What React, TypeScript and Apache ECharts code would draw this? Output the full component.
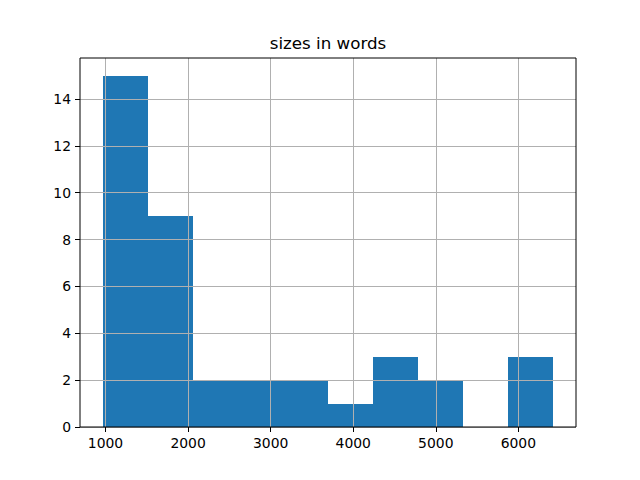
import React, { useEffect, useRef } from "react";
import * as echarts from "echarts";

const binEdges = [964, 1510, 2056, 2602, 3148, 3694, 4240, 4786, 5332, 5878, 6425];
const counts = [15, 9, 2, 2, 2, 1, 3, 2, 0, 3];
const xTicks = [1000, 2000, 3000, 4000, 5000, 6000];
const yTicks = [0, 2, 4, 6, 8, 10, 12, 14];
const titleText = "sizes in words";

export default function App() {
  const ref = useRef<HTMLDivElement>(null);
  useEffect(() => {
    if (!ref.current) return;
    const chart = echarts.init(ref.current, null, { renderer: "svg" });
    const data = counts.map((c, i) => [binEdges[i], binEdges[i + 1], c]);
    const font = "DejaVu Sans";
    chart.setOption({
      animation: false,
      backgroundColor: "#ffffff",
      grid: {
        left: 80,
        right: 64,
        top: 58,
        bottom: 53,
        show: true,
        borderColor: "#000000",
        borderWidth: 1,
        backgroundColor: "transparent",
        z: 5,
      },
      graphic: [
        {
          type: "text",
          x: 328,
          y: 43,
          style: {
            text: titleText,
            fontFamily: font,
            fontSize: 16.7,
            fill: "#000000",
            textAlign: "center",
            textVerticalAlign: "middle",
          },
        },
      ],
      xAxis: {
        type: "value",
        min: 691,
        max: 6698,
        z: 4,
        axisLine: { show: false },
        axisTick: {
          show: true,
          length: 5,
          lineStyle: { color: "#000", width: 1 },
          customValues: xTicks,
        },
        axisLabel: {
          customValues: xTicks,
          margin: 9,
          fontFamily: font,
          fontSize: 13.9,
          color: "#000",
          formatter: (v: number) => String(v),
        },
        splitLine: { show: true, lineStyle: { color: "#b0b0b0", width: 1 } },
      },
      yAxis: {
        type: "value",
        min: 0,
        max: 15.75,
        interval: 2,
        z: 4,
        axisLine: { show: false },
        axisTick: {
          show: true,
          length: 5,
          lineStyle: { color: "#000", width: 1 },
          customValues: yTicks,
        },
        axisLabel: {
          customValues: yTicks,
          margin: 9,
          fontFamily: font,
          fontSize: 13.9,
          color: "#000",
          formatter: (v: number) => String(v),
        },
        splitLine: { show: true, lineStyle: { color: "#b0b0b0", width: 1 } },
      },
      series: [
        {
          type: "custom",
          z: 1,
          data,
          encode: { x: [0, 1], y: 2 },
          renderItem: (params: any, api: any) => {
            const p0 = api.coord([api.value(0), api.value(2)]);
            const p1 = api.coord([api.value(1), 0]);
            const x0 = Math.round(p0[0]);
            const x1 = Math.round(p1[0]);
            const y0 = Math.round(p0[1]);
            const y1 = Math.round(p1[1]);
            return {
              type: "rect",
              shape: { x: x0, y: y0, width: x1 - x0, height: y1 - y0 },
              style: { fill: "#1f77b4" },
            };
          },
        },
      ],
    });
    return () => chart.dispose();
  }, []);
  return (
    <div
      ref={ref}
      style={{ position: "absolute", left: 0, top: 0, width: 640, height: 480 }}
    />
  );
}
